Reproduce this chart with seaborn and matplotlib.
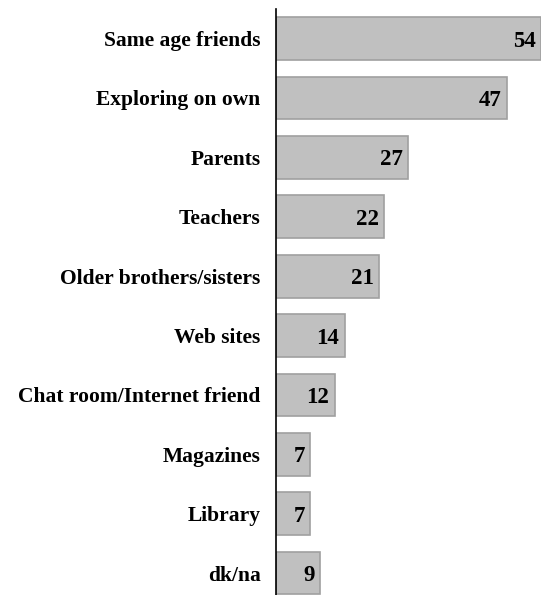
import matplotlib
matplotlib.use("Agg")
import matplotlib.pyplot as plt
import seaborn as sns
import pandas as pd

# 데이터
categories = [
    "Same age friends", "Exploring on own", "Parents", "Teachers",
    "Older brothers/sisters", "Web sites", "Chat room/Internet friend",
    "Magazines", "Library", "dk/na",
]
values = [54, 47, 27, 22, 21, 14, 12, 7, 7, 9]

df = pd.DataFrame({"source": categories, "pct": values})

sns.set_style("white")
plt.rcParams["font.family"] = ["Liberation Serif", "DejaVu Serif"]
plt.rcParams["font.weight"] = "bold"

fig = plt.figure(figsize=(5.41, 5.95), dpi=100)
ax = fig.add_axes([0.51, -0.013, 0.49, 0.998])

sns.barplot(data=df, y="source", x="pct", orient="h", color="#c0c0c0",
            edgecolor="#a0a0a0", linewidth=1.2, width=0.72, saturation=1, ax=ax)

# 값 라벨 (막대 안쪽 끝)
for i, v in enumerate(df["pct"]):
    ax.text(v - 1.1, i, str(v), ha="right", va="center_baseline",
            fontsize=16.5, fontweight="bold", color="black")

ax.set_xlim(0, 54)
ax.set_ylim(9.5, -0.5)
ax.set_xlabel("")
ax.set_ylabel("")
ax.set_xticks([])
ax.tick_params(axis="y", length=0, pad=11, labelsize=15.5, labelcolor="black")
for lbl in ax.get_yticklabels():
    lbl.set_fontweight("bold")
for s in ["top", "right", "bottom"]:
    ax.spines[s].set_visible(False)
ax.spines["left"].set_color("black")
ax.spines["left"].set_linewidth(1.2)

fig.savefig("out.png", dpi=100)
